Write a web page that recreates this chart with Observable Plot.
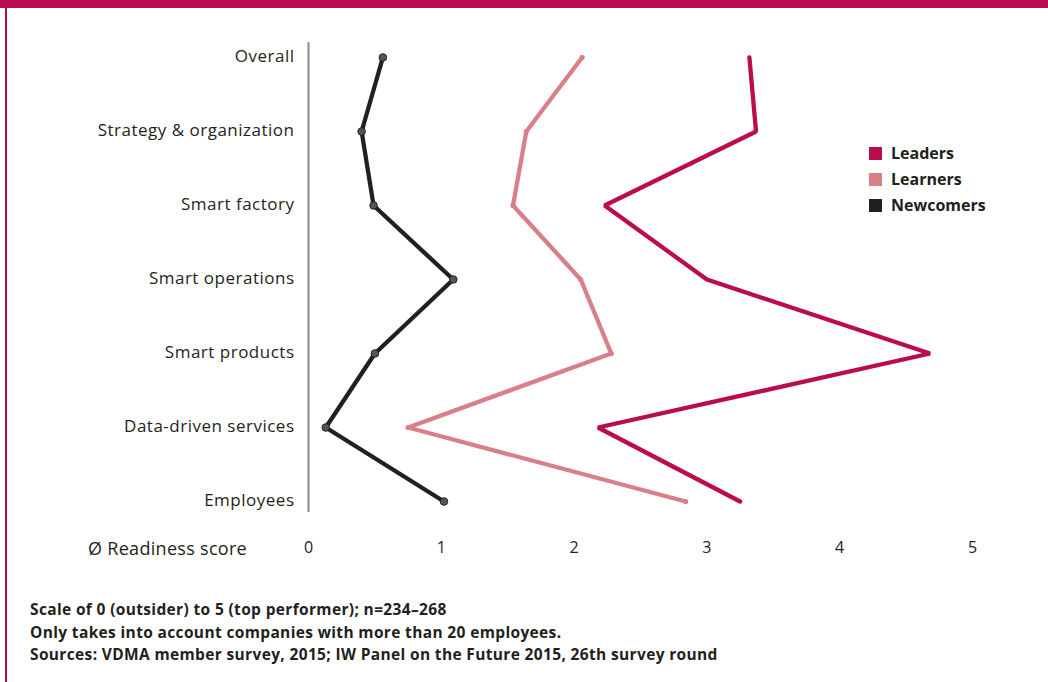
<!DOCTYPE html>
<html>
<head>
<meta charset="utf-8">
<script src="https://cdn.jsdelivr.net/npm/d3@7"></script>
<script src="https://cdn.jsdelivr.net/npm/@observablehq/plot@0.6"></script>
<style>
  html, body { margin: 0; padding: 0; background: #fff; }
  #frame { position: relative; width: 1048px; height: 682px; overflow: hidden; font-family: "Open Sans", Lato, sans-serif; color: #231F20; }
  #topbar { position: absolute; left: 0; top: 0; width: 1048px; height: 8px; background: #BA0C4F; }
  #leftbar { position: absolute; left: 5px; top: 0; width: 2px; height: 682px; background: #BA0C4F; }
  #chart { position: absolute; left: 0; top: 0; }
  #chart svg g[aria-label="y-axis tick label"] text { letter-spacing: 0.5px; }
  #xlabel { position: absolute; left: 88px; top: 536px; font-size: 18px; letter-spacing: 0.3px; color: #231F20; white-space: nowrap; }
  #legend { position: absolute; left: 869px; top: 140px; font-size: 16px; font-weight: bold; }
  .li { display: flex; align-items: center; height: 26px; }
  .sw { width: 13px; height: 13px; margin-right: 9px; }
  #caption { position: absolute; left: 30px; top: 598px; font-size: 15.5px; letter-spacing: 0.35px; font-weight: bold; line-height: 22.5px; white-space: nowrap; }
</style>
</head>
<body>
<div id="frame">
  <div id="topbar"></div>
  <div id="leftbar"></div>
  <div id="chart"></div>
  <div id="xlabel">Ø Readiness score</div>
  <div id="legend"></div>
  <div id="caption">
    Scale of 0 (outsider) to 5 (top performer); n=234–268<br>
    Only takes into account companies with more than 20 employees.<br>
    Sources: VDMA member survey, 2015; IW Panel on the Future 2015, 26th survey round
  </div>
</div>
<script>
const categories = ["Overall", "Strategy & organization", "Smart factory", "Smart operations", "Smart products", "Data-driven services", "Employees"];
const seriesNames = ["Leaders", "Learners", "Newcomers"];
const seriesColors = ["#BA0C4F", "#D97F88", "#231F20"];
const leaders   = [3.32, 3.37, 2.23, 3.00, 4.68, 2.18, 3.25];
const learners  = [2.06, 1.64, 1.54, 2.05, 2.28, 0.75, 2.84];
const newcomers = [0.56, 0.40, 0.49, 1.09, 0.50, 0.13, 1.02];
const xTicks = [0, 1, 2, 3, 4, 5];

const seriesValues = {Leaders: leaders, Learners: learners, Newcomers: newcomers};
const data = seriesNames.flatMap(s => categories.map((c, i) => ({series: s, category: c, value: seriesValues[s][i]})));
const byS = s => data.filter(d => d.series === s);

const chart = Plot.plot({
  width: 1048,
  height: 580,
  marginLeft: 308,
  marginRight: 76,
  marginTop: 56,
  marginBottom: 79,
  style: {fontFamily: "'Open Sans', Lato, sans-serif", fontSize: "17px", color: "#231F20", background: "transparent"},
  x: {domain: [0, 5], ticks: xTicks},
  y: {type: "point", domain: categories, padding: 0},
  color: {domain: seriesNames, range: seriesColors},
  marks: [
    Plot.axisX({ticks: xTicks, tickFormat: d3.format("d"), tickSize: 0, tickPadding: 40, label: null, fontSize: 16, fill: "#231F20", anchor: "bottom"}),
    Plot.axisY({tickSize: 0, tickPadding: 14, label: null, fontSize: 17, fill: "#231F20", dy: -1}),
    Plot.ruleX([0], {stroke: "#8a8a8a", strokeWidth: 2, insetTop: -14, insetBottom: -11}),
    Plot.line(data, {x: "value", y: "category", z: "series", stroke: "series", strokeWidth: 4.3, strokeLinejoin: "miter", strokeLinecap: "round"}),
    Plot.dot(byS("Learners"), {x: "value", y: "category", r: 2.6, fill: seriesColors[1]}),
    Plot.dot(byS("Newcomers"), {x: "value", y: "category", r: 3.8, fill: "#555", stroke: "#222", strokeWidth: 1})
  ]
});
document.getElementById("chart").appendChild(chart);

const legend = document.getElementById("legend");
seriesNames.forEach((s, i) => {
  const row = document.createElement("div");
  row.className = "li";
  row.innerHTML = `<div class="sw" style="background:${seriesColors[i]}"></div><span>${s}</span>`;
  legend.appendChild(row);
});
</script>
</body>
</html>
